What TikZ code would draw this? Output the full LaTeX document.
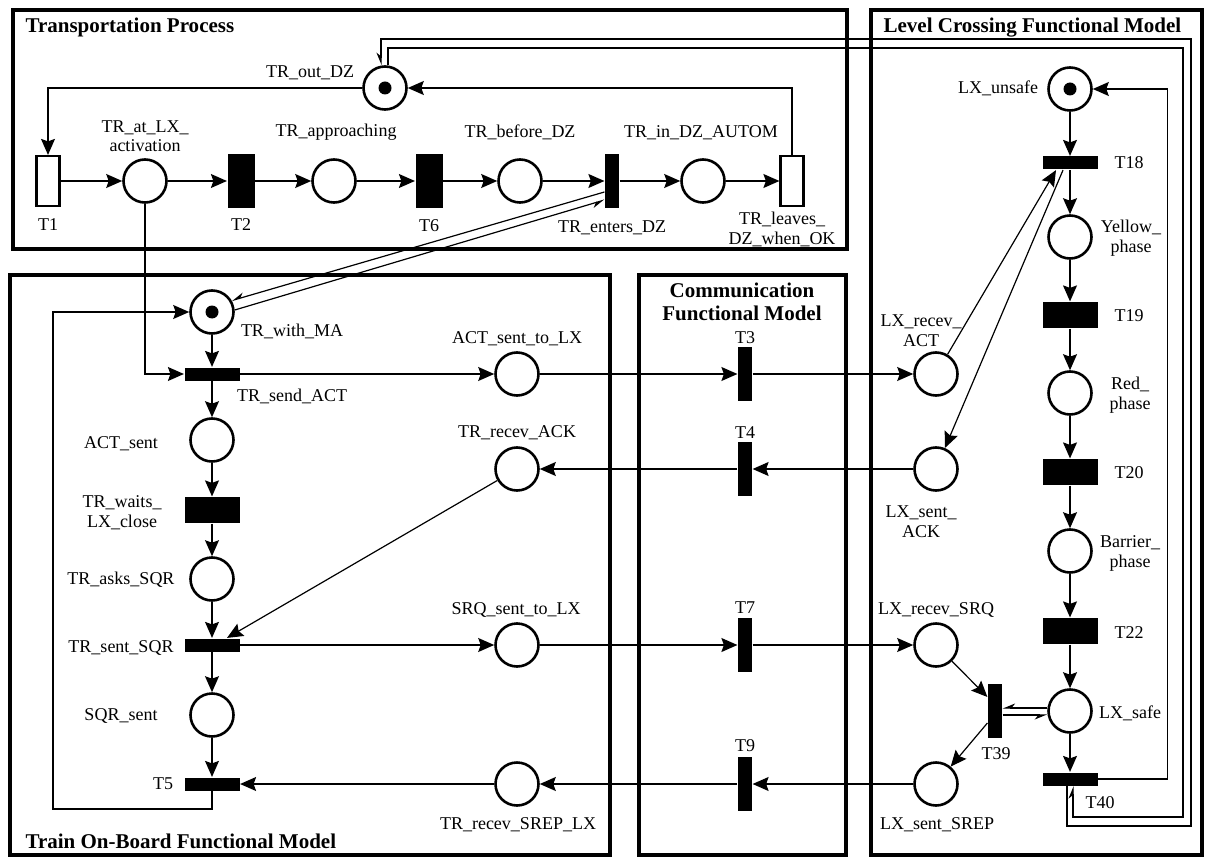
\documentclass[tikz,border=0pt]{standalone}
\usepackage{fontspec}
\setmainfont{Liberation Serif}
\usetikzlibrary{arrows.meta, positioning, calc}
\tikzset{
  every picture/.style={line width=1.2pt},
  place/.style={circle, draw, line width=2.6pt, minimum size=43pt, inner sep=0pt},
  marked/.style={place, path picture={\fill (path picture bounding box.center) circle (6.5pt);}},
  tbox/.style 2 args={fill=black, inner sep=0pt, minimum width=#1, minimum height=#2},
  hbar/.style={tbox={55pt}{13pt}},
  hblock/.style={tbox={55pt}{26pt}},
  vbar/.style={tbox={14pt}{54pt}},
  vblock/.style={tbox={27pt}{54pt}},
  wtrans/.style={draw, fill=white, line width=2.2pt, inner sep=0pt, minimum width=23pt, minimum height=50pt},
  flow/.style={-{Stealth[length=16pt, width=14pt, inset=2.5pt]}, line width=1.2pt},
  readl/.style={-{Stealth[length=11pt, width=9pt, harpoon]}, line width=1.2pt},
  readr/.style={-{Stealth[length=11pt, width=9pt, harpoon, swap]}, line width=1.2pt},
  lbl/.style={font=\fontsize{18}{20}\selectfont, align=center, inner sep=0pt},
  title/.style={font=\bfseries\fontsize{21}{23}\selectfont, inner sep=0pt},
  frame/.style={line width=4.5pt},
}

\begin{document}
\begin{tikzpicture}[x=1pt, y=-1pt]
  \useasboundingbox (0,0) rectangle (1206,858);
  % the four model boxes
  \draw[frame] (13,10) rectangle (847,249);
  \draw[frame] (10,275) rectangle (610,855);
  \draw[frame] (639,275) rectangle (846,855);
  \draw[frame] (871,10) rectangle (1202,855);
  \node[title, anchor=base west] (ttp) at (25,33) {Transportation Process};
  \node[title, anchor=base west] (tlx) at (883,33) {Level Crossing Functional Model};
  \node[title, anchor=base west] (tob) at (25,848) {Train On-Board Functional Model};
  \node[title, align=center] (tcom) at (742,302) {Communication\\Functional Model};

  % transportation process
  \node[wtrans] (t1) at (48,181) {};
  \node[place] (tract) at (145,181) {};
  \node[vblock] (t2) at (241,181) {};
  \node[place] (trapp) at (334,181) {};
  \node[vblock] (t6) at (429,181) {};
  \node[place] (trbef) at (520,181) {};
  \node[vbar] (tent) at (612,181) {};
  \node[place] (trin) at (703,181) {};
  \node[wtrans] (tleave) at (792,181) {};
  \node[marked] (trout) at (385,88) {};
  \node[lbl, anchor=base] (l-trout) at (310,78) {TR\_out\_DZ};
  \node[lbl] (l-tract) at (145,136) {TR\_at\_LX\_\\[-1pt]activation};
  \node[lbl, anchor=base] (l-trapp) at (336,137) {TR\_approaching};
  \node[lbl, anchor=base] (l-trbef) at (520,138) {TR\_before\_DZ};
  \node[lbl, anchor=base] (l-trin) at (701,138) {TR\_in\_DZ\_AUTOM};
  \node[lbl, anchor=base] (l-t1) at (48,231) {T1};
  \node[lbl, anchor=base] (l-t2) at (241,231) {T2};
  \node[lbl, anchor=base] (l-t6) at (429,232) {T6};
  \node[lbl, anchor=base] (l-tent) at (612,233) {TR\_enters\_DZ};
  \node[lbl] (l-tleave) at (782,229) {TR\_leaves\_\\DZ\_when\_OK};

  % level crossing
  \node[marked] (lxuns) at (1070,89) {};
  \node[hbar] (t18) at (1070,163) {};
  \node[place] (yel) at (1070,237) {};
  \node[hblock] (t19) at (1070,315) {};
  \node[place] (red) at (1070,393) {};
  \node[hblock] (t20) at (1070,472) {};
  \node[place] (barr) at (1070,551) {};
  \node[hblock] (t22) at (1070,631) {};
  \node[place] (lxsafe) at (1070,711) {};
  \node[hbar] (t40) at (1070,779) {};
  \node[place] (lxrack) at (936,374) {};
  \node[place] (lxsack) at (936,469) {};
  \node[place] (lxrsrq) at (936,645) {};
  \node[vbar] (t39) at (995,711) {};
  \node[place] (lxssrep) at (936,784) {};
  \node[lbl, anchor=base] (l-lxuns) at (998,94) {LX\_unsafe};
  \node[lbl, anchor=base] (l-t18) at (1129,169) {T18};
  \node[lbl] (l-yel) at (1131,238) {Yellow\_\\phase};
  \node[lbl, anchor=base] (l-t19) at (1129,321) {T19};
  \node[lbl] (l-red) at (1130,395) {Red\_\\phase};
  \node[lbl, anchor=base] (l-t20) at (1129,478) {T20};
  \node[lbl] (l-barr) at (1130,553) {Barrier\_\\phase};
  \node[lbl, anchor=base] (l-t22) at (1129,638) {T22};
  \node[lbl, anchor=base] (l-lxsafe) at (1130,718) {LX\_safe};
  \node[lbl, anchor=base] (l-t40) at (1100,808) {T40};
  \node[lbl] (l-lxrack) at (921,331) {LX\_recev\_\\ACT};
  \node[lbl] (l-lxsack) at (921,522) {LX\_sent\_\\ACK};
  \node[lbl, anchor=base] (l-lxrsrq) at (936,614) {LX\_recev\_SRQ};
  \node[lbl, anchor=base] (l-t39) at (996,759) {T39};
  \node[lbl, anchor=base] (l-lxssrep) at (937,829) {LX\_sent\_SREP};

  % communication
  \node[vbar] (t3) at (745,374) {};
  \node[vbar] (t4) at (745,469) {};
  \node[vbar] (t7) at (745,645) {};
  \node[vbar] (t9) at (745,784) {};
  \node[lbl, anchor=base] (l-t3) at (745,343) {T3};
  \node[lbl, anchor=base] (l-t4) at (745,438) {T4};
  \node[lbl, anchor=base] (l-t7) at (745,613) {T7};
  \node[lbl, anchor=base] (l-t9) at (745,751) {T9};

  % train on-board
  \node[marked] (trma) at (212,312) {};
  \node[hbar] (tsend) at (212,374) {};
  \node[place] (actsent) at (212,440) {};
  \node[hblock] (twait) at (212,510) {};
  \node[place] (trasks) at (212,579) {};
  \node[hbar] (tsent) at (212,645) {};
  \node[place] (sqrsent) at (212,715) {};
  \node[hbar] (t5) at (212,784) {};
  \node[place] (acttolx) at (517,374) {};
  \node[place] (trrack) at (517,469) {};
  \node[place] (srqtolx) at (517,645) {};
  \node[place] (trrsrep) at (517,784) {};
  \node[lbl, anchor=base] (l-trma) at (292,336) {TR\_with\_MA};
  \node[lbl, anchor=base] (l-tsend) at (292,401) {TR\_send\_ACT};
  \node[lbl, anchor=base] (l-actsent) at (121,448) {ACT\_sent};
  \node[lbl] (l-twait) at (122,513) {TR\_waits\_\\LX\_close};
  \node[lbl, anchor=base] (l-trasks) at (121,584) {TR\_asks\_SQR};
  \node[lbl, anchor=base] (l-tsent) at (121,652) {TR\_sent\_SQR};
  \node[lbl, anchor=base] (l-sqrsent) at (121,720) {SQR\_sent};
  \node[lbl, anchor=base] (l-t5) at (163,789) {T5};
  \node[lbl, anchor=base] (l-acttolx) at (517,343) {ACT\_sent\_to\_LX};
  \node[lbl, anchor=base] (l-trrack) at (517,437) {TR\_recev\_ACK};
  \node[lbl, anchor=base] (l-srqtolx) at (516,614) {SRQ\_sent\_to\_LX};
  \node[lbl, anchor=base] (l-trrsrep) at (518,829) {TR\_recev\_SREP\_LX};

  % straight arcs
  \foreach \a/\b in {t1/tract, tract/t2, t2/trapp, trapp/t6, t6/trbef, trbef/tent, tent/trin, trin/tleave,
                     lxuns/t18, t18/yel, yel/t19, t19/red, red/t20, t20/barr, barr/t22, t22/lxsafe, lxsafe/t40,
                     trma/tsend, tsend/actsent, actsent/twait, twait/trasks, trasks/tsent, tsent/sqrsent, sqrsent/t5,
                     tsend/acttolx, acttolx/t3, t3/lxrack, lxsack/t4, t4/trrack,
                     tsent/srqtolx, srqtolx/t7, t7/lxrsrq, lxssrep/t9, t9/trrsrep, trrsrep/t5}
    \draw[flow] (\a) -- (\b);

  % bent and slanted arcs
  \draw[flow] (tleave) |- (trout);
  \draw[flow] (trout) -| (t1);
  \draw[flow] (tract) |- (tsend);
  \draw[flow] (t5) |- (53,809) |- (trma);
  \draw[flow] (t40.east) -- ++(69,0) |- (lxuns);
  \draw[flow] (lxrack) -- ([xshift=-14pt]t18.south);
  \draw[flow] ([xshift=-7pt]t18.south) -- (lxsack);
  \draw[flow] (trrack) -- ([xshift=15pt]tsent.north);
  \draw[flow] (lxrsrq) -- ([yshift=14pt]t39.west);
  \draw[flow] ([yshift=-12pt]t39.west) -- (lxssrep);

  % read arcs (pairs)
  \draw[readr] ([yshift=3pt]lxsafe.west) -- ([yshift=3pt]t39.east);
  \draw[readr] ([yshift=-4pt]t39.east) -- ([yshift=-4pt]lxsafe.west);
  \draw[readr] ([yshift=-11pt]tent.west) -- (trma.30);
  \draw[readr] (trma.5) -- ([yshift=-19pt]tent.west);
  \draw[readr] ([xshift=-3pt]t40.south) |- (1191,826) |- (381,39) -- ([xshift=-4pt]trout.north);
  \draw[readl] ([xshift=3pt]trout.north) |- (1183,48) |- (1073,817) -- ([xshift=3pt]t40.south);
\end{tikzpicture}
\end{document}
